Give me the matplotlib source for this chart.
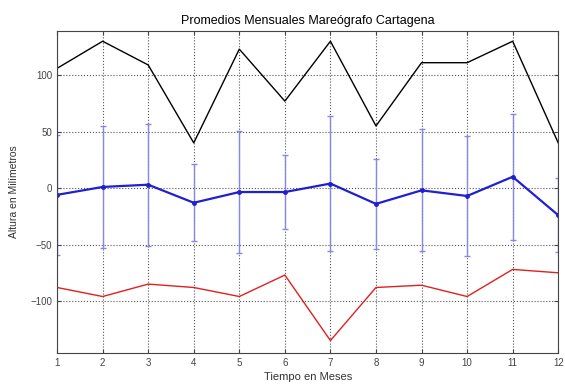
import matplotlib
matplotlib.use("Agg")
import matplotlib.pyplot as plt

meses = [1, 2, 3, 4, 5, 6, 7, 8, 9, 10, 11, 12]
maximos = [106, 130, 109, 40, 123, 77, 130, 55, 111, 111, 130, 40]
promedios = [-6, 1, 3, -13, -3.5, -3.5, 4, -14, -2, -7, 10, -24]
desviacion = [53, 54, 54, 34, 54, 33, 60, 40, 54, 53, 56, 33]
minimos = [-88, -96, -85, -88, -96, -77, -135, -88, -86, -96, -72, -75]

plt.rcParams['font.family'] = ['Liberation Sans', 'DejaVu Sans']

fig = plt.figure(figsize=(5.65, 3.86), dpi=100)
ax = fig.add_axes([0.101, 0.0855, 0.887, 0.834])

ax.plot(meses, maximos, color='black', linewidth=1.0)
ax.errorbar(meses, promedios, yerr=desviacion, color='#2020d0', ecolor='#8888e4',
            elinewidth=1.0, capsize=2.5, marker='.', markersize=5, linewidth=1.6)
ax.plot(meses, minimos, color='#e02020', linewidth=1.0)

ax.set_xlim(1, 12)
ax.set_ylim(-146, 139)
ax.set_xticks(meses)
ax.set_yticks([-100, -50, 0, 50, 100])
ax.tick_params(direction='in', labelsize=7, length=3, colors='#444444', top=True, right=True)
ax.grid(True, linestyle=':', color='#555555', linewidth=0.8)
for s in ax.spines.values():
    s.set_color('#444444')
    s.set_linewidth(0.8)

ax.set_title('Promedios Mensuales Mareógrafo Cartagena', fontsize=9, pad=5)
ax.set_xlabel('Tiempo en Meses', fontsize=8, labelpad=3, color='#333333')
ax.set_ylabel('Altura en Milímetros', fontsize=7.5, labelpad=8, color='#333333')

fig.savefig('out.png')
